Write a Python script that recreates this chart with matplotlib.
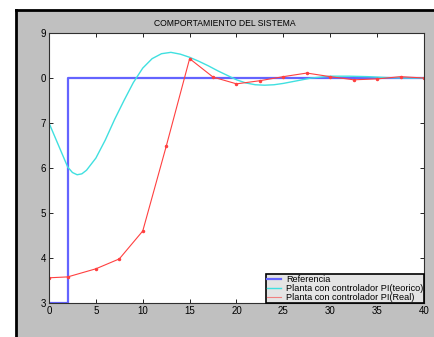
import matplotlib
matplotlib.use("Agg")
import matplotlib.pyplot as plt
from matplotlib.patches import Rectangle

# Data
ref_x = [0, 2, 2, 40]
ref_y = [3, 3, 8, 8]

teo_x = [0, 2, 2.5, 3, 3.5, 4, 5, 6, 7, 8, 9, 10, 11, 12, 13, 14, 15, 16, 17, 18, 19, 20,
         21, 22, 23, 24, 25, 26, 27, 28, 30, 32, 34, 36, 38, 40]
teo_y = [7.0, 6.02, 5.9, 5.85, 5.87, 5.95, 6.22, 6.62, 7.08, 7.5, 7.9, 8.22, 8.43, 8.54, 8.57,
         8.53, 8.46, 8.37, 8.27, 8.16, 8.06, 7.96, 7.89, 7.85, 7.84, 7.85, 7.88,
         7.92, 7.96, 8.0, 8.04, 8.04, 8.03, 8.01, 8.0, 8.0]

real_x = [0, 2, 5, 7.5, 10, 12.5, 15, 17.5, 20, 22.5, 25, 27.5, 30, 32.5, 35, 37.5, 40]
real_y = [3.56, 3.58, 3.76, 3.98, 4.6, 6.48, 8.43, 8.02, 7.87, 7.94, 8.03, 8.11,
          8.03, 7.96, 7.98, 8.03, 8.0]

xticks = [0, 5, 10, 15, 20, 25, 30, 35, 40]
yticks = [3, 4, 5, 6, 7, 8, 9]
ytick_labels = ['3', '4', '5', '6', '7', '0', '9']

title = "COMPORTAMIENTO DEL SISTEMA"
labels = ["Referencia", "Planta con controlador PI(teorico)", "Planta con controlador PI(Real)"]

plt.rcParams['font.family'] = ['Liberation Sans', 'DejaVu Sans']

fig = plt.figure(figsize=(4.35, 3.37), dpi=100, facecolor='white')
# gray window background with black top/left border
fig.add_artist(Rectangle((16/435, 0), 1 - 16/435, 1 - 10/337, transform=fig.transFigure,
                         facecolor='#c0c0c0', edgecolor='none', zorder=-10))
fig.add_artist(plt.Line2D([16/435, 1], [1 - 10/337, 1 - 10/337], color='black', lw=2,
                          transform=fig.transFigure, zorder=-5))
fig.add_artist(plt.Line2D([16/435, 16/435], [0, 1 - 10/337], color='black', lw=2,
                          transform=fig.transFigure, zorder=-5))

ax = fig.add_axes([49/435, 1 - 303/337, 375/435, 270/337], zorder=1)
ax.set_facecolor('white')
ax.plot(ref_x, ref_y, color='#6464ff', lw=1.6, label=labels[0])
ax.plot(teo_x, teo_y, color='#40e0e0', lw=1.0, label=labels[1])
ax.plot(real_x, real_y, color='#ff4040', lw=0.8, marker='.', markersize=3, label=labels[2])

ax.set_xlim(0, 40)
ax.set_ylim(3, 9)
ax.set_xticks(xticks)
ax.set_yticks(yticks)
ax.set_yticklabels(ytick_labels)
ax.tick_params(direction='in', length=3, width=0.6, labelsize=7, top=True, right=True,
               pad=2, colors='black')
for s in ax.spines.values():
    s.set_linewidth(0.8)
    s.set_color('#303030')

ax.set_title(title, fontsize=6.2, pad=5, x=(225 - 49) / 375)

leg = ax.legend(loc='lower right', fontsize=6.6, frameon=True, fancybox=False,
                borderaxespad=0, handlelength=1.6, labelspacing=0.0, borderpad=0.1,
                handletextpad=0.5)
for ln in leg.get_lines():
    ln.set_marker('')
leg.get_lines()[2].set_color('#f08080')
leg.get_frame().set_edgecolor('black')
leg.get_frame().set_linewidth(1.2)
leg.get_frame().set_facecolor('#e4e4e4')
leg.get_frame().set_alpha(1)

fig.savefig('out.png', dpi=100, facecolor=fig.get_facecolor())
